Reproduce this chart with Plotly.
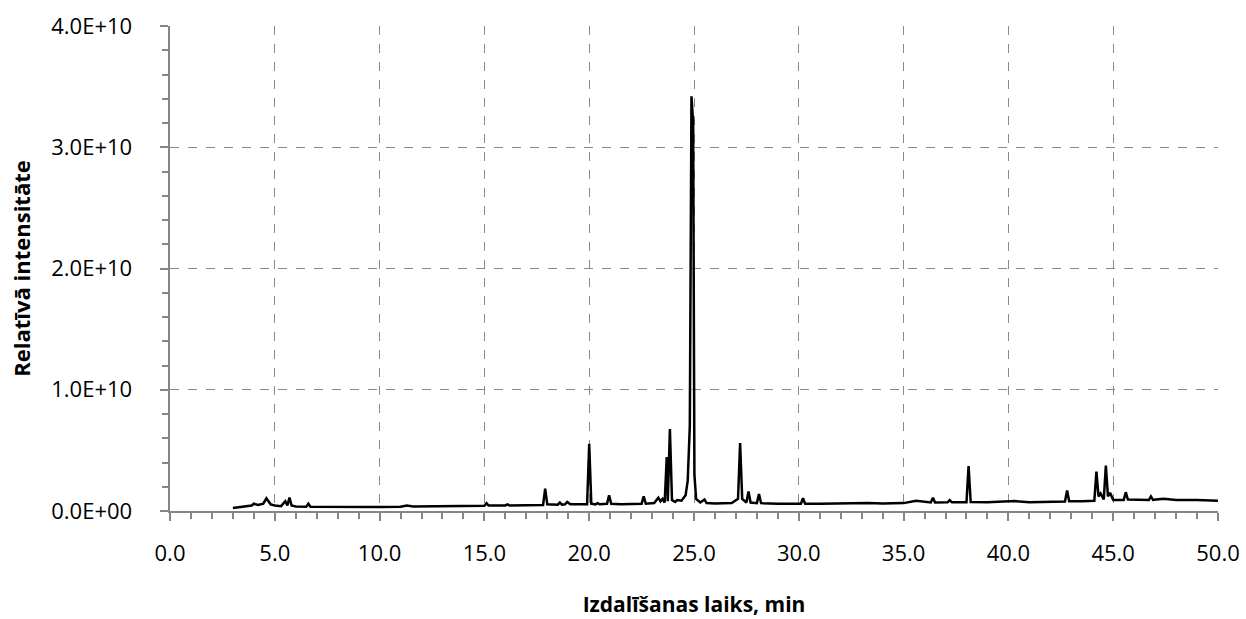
import plotly.graph_objects as go

# Retention time (min) and relative intensity
time_min = [3.0, 3.3, 3.6, 3.9, 4.0, 4.2, 4.45, 4.6, 4.8, 5.0, 5.3, 5.5, 5.6, 5.7, 5.8, 6.0,
            6.5, 6.6, 6.7, 7.2, 8.0, 9.0, 10.0, 11.0, 11.3, 11.6, 12.5, 13.5, 14.5,
            15.0, 15.1, 15.2, 16.0, 16.1, 16.2, 17.0, 17.8, 17.9, 18.0, 18.5, 18.6, 18.7,
            18.85, 18.95, 19.1, 19.9, 20.0, 20.1, 20.3, 20.4, 20.5, 20.85, 20.95, 21.05,
            21.5, 22.5, 22.6, 22.7, 23.1, 23.3, 23.4, 23.5, 23.6, 23.7, 23.75, 23.85, 23.95,
            24.1, 24.2, 24.4, 24.6, 24.7, 24.8, 24.88, 24.96, 25.02, 25.1, 25.3, 25.5, 25.6, 26.0,
            26.8, 27.1, 27.2, 27.3, 27.5, 27.6, 27.7, 28.0, 28.1, 28.2, 29.0, 30.1, 30.2,
            30.3, 31.0, 32.0, 32.7, 33.3, 34.0, 35.0, 35.6, 36.3, 36.4, 36.5, 37.1, 37.2,
            37.3, 38.0, 38.1, 38.2, 39.0, 40.3, 41.0, 42.0, 42.7, 42.8, 42.9, 43.5, 44.1,
            44.2, 44.3, 44.4, 44.55, 44.65, 44.75, 44.85, 45.0, 45.5, 45.6, 45.7, 46.7,
            46.8, 46.9, 47.4, 48.0, 49.0, 50.0]
intensity = [0.25e9, 0.3e9, 0.35e9, 0.45e9, 0.6e9, 0.5e9, 0.6e9, 1.05e9, 0.55e9, 0.45e9, 0.4e9,
             0.8e9, 0.45e9, 1.1e9, 0.45e9, 0.38e9, 0.36e9, 0.6e9, 0.36e9, 0.35e9, 0.34e9,
             0.34e9, 0.34e9, 0.36e9, 0.45e9, 0.38e9, 0.38e9, 0.4e9, 0.42e9, 0.44e9, 0.65e9,
             0.45e9, 0.46e9, 0.55e9, 0.46e9, 0.48e9, 0.5e9, 1.85e9, 0.55e9, 0.52e9, 0.7e9,
             0.52e9, 0.55e9, 0.75e9, 0.55e9, 0.55e9, 5.55e9, 0.6e9, 0.55e9, 0.65e9, 0.55e9,
             0.6e9, 1.3e9, 0.6e9, 0.55e9, 0.6e9, 1.2e9, 0.6e9, 0.65e9, 1.1e9, 0.8e9, 1.0e9,
             0.7e9, 4.45e9, 0.8e9, 6.75e9, 0.9e9, 0.75e9, 0.9e9, 0.85e9, 1.3e9, 2.5e9,
             7.0e9, 34.2e9, 32.0e9, 3.0e9, 1.0e9, 0.7e9, 0.95e9, 0.65e9, 0.62e9, 0.65e9, 1.0e9,
             5.6e9, 1.0e9, 0.7e9, 1.6e9, 0.7e9, 0.65e9, 1.4e9, 0.65e9, 0.6e9, 0.6e9,
             1.05e9, 0.6e9, 0.6e9, 0.62e9, 0.68e9, 0.65e9, 0.62e9, 0.65e9, 0.85e9, 0.7e9,
             1.1e9, 0.7e9, 0.72e9, 0.9e9, 0.72e9, 0.72e9, 3.7e9, 0.75e9, 0.72e9, 0.82e9,
             0.72e9, 0.75e9, 0.78e9, 1.7e9, 0.8e9, 0.8e9, 0.85e9, 3.25e9, 1.2e9, 1.45e9,
             0.95e9, 3.75e9, 1.2e9, 1.5e9, 0.9e9, 0.9e9, 1.55e9, 0.95e9, 0.9e9, 1.2e9,
             0.92e9, 1.0e9, 0.9e9, 0.9e9, 0.85e9]

y_tick_vals = [0, 1e10, 2e10, 3e10, 4e10]
y_tick_text = ["0.0E+00", "1.0E+10", "2.0E+10", "3.0E+10", "4.0E+10"]

FONT = "'Open Sans', sans-serif"

fig = go.Figure()
fig.add_trace(go.Scatter(x=time_min, y=intensity, mode="lines",
                         line=dict(color="black", width=2.5), showlegend=False))

axis_common = dict(
    showline=True, linecolor="#868686", linewidth=1.5,
    showgrid=True, gridcolor="#8a8a8a", griddash="dash", gridwidth=1.4,
    ticks="outside", tickcolor="#868686", ticklen=8, tickwidth=1.5,
    zeroline=False, automargin=False,
    tickfont=dict(family=FONT, size=22, color="black"),
)

fig.update_layout(
    width=1246, height=619,
    margin=dict(l=170, r=28, t=26, b=108),
    plot_bgcolor="white", paper_bgcolor="white",
    xaxis=dict(range=[0, 50], dtick=5, tickformat=".1f", ticklabelstandoff=14,
               minor=dict(dtick=1, ticks="outside", ticklen=6, tickcolor="#868686", showgrid=False),
               title=dict(text="<b>Izdalīšanas laiks, min</b>", font=dict(family=FONT, size=21, color="black"), standoff=31),
               **axis_common),
    yaxis=dict(range=[0, 4e10], tickvals=y_tick_vals,
               ticktext=[t + "\u00a0" for t in y_tick_text], ticklabelstandoff=18,
               minor=dict(dtick=2e9, ticks="outside", ticklen=6, tickcolor="#868686", showgrid=False),
               title=dict(text="<b>Relatīvā intensitāte</b>", font=dict(family=FONT, size=22, color="black"), standoff=15),
               **axis_common),
)

fig.write_html("out.html")
